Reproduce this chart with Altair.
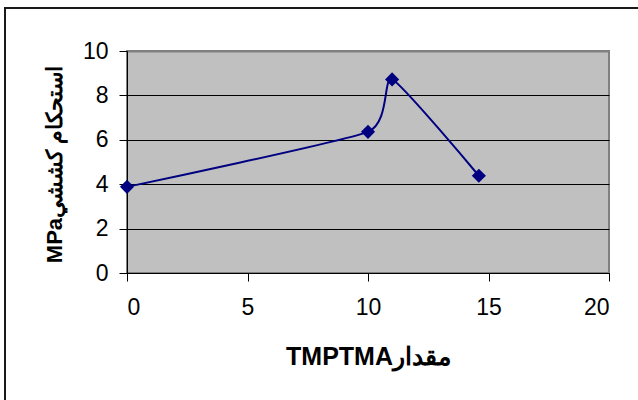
import altair as alt
import pandas as pd

# Data
tmptma = [0, 10, 11, 14.6]
strength = [3.88, 6.36, 8.72, 4.38]
x_ticks = [0, 5, 10, 15, 20]
y_ticks = [0, 2, 4, 6, 8, 10]

x_title = "TMPTMAمقدار"
y_title = "MPaاستحکام کششي"

df = pd.DataFrame({"x": tmptma, "y": strength})

FONT = "Liberation Sans"

x_enc = alt.X(
    "x:Q",
    scale=alt.Scale(domain=[0, 20], nice=False, zero=False),
    axis=alt.Axis(
        values=x_ticks, title=x_title, grid=False, format="d",
        titleY=91, titleBaseline="alphabetic", titleFontSize=25,
    ),
)
y_enc = alt.Y(
    "y:Q",
    scale=alt.Scale(domain=[0, 10], nice=False),
    axis=alt.Axis(
        values=y_ticks, title=y_title, grid=True, format="d",
        gridColor={"condition": {"test": "datum.value === 10", "value": "#808080"}, "value": "#000000"},
        gridWidth={"condition": {"test": "datum.value === 10", "value": 2}, "value": 1},
        titleX=-66, titleY=113, titleBaseline="alphabetic", titleAngle=270,
        titleFontSize=22,
    ),
)

base = alt.Chart(df)

line = base.mark_line(
    color="#000080", strokeWidth=2, interpolate="cardinal", tension=0.5
).encode(x=x_enc, y=y_enc)

points = base.mark_point(
    shape="diamond", filled=True, color="#000080", size=200, opacity=1
).encode(x="x:Q", y="y:Q")

frame = alt.Chart(alt.Data(values=[{}]))
frame_top = frame.mark_rule(color="#1a1a1a", strokeWidth=2).encode(
    x=alt.value(-122), x2=alt.value(520), y=alt.value(-43)
)
frame_left = frame.mark_rule(color="#1a1a1a", strokeWidth=2).encode(
    x=alt.value(-122), y=alt.value(-44), y2=alt.value(360)
)

chart = alt.layer(line, points, frame_top, frame_left).properties(
    width=482,
    height=222,
    autosize=alt.AutoSizeParams(type="none"),
    padding={"left": 127, "top": 51, "right": 29, "bottom": 127},
    background="#ffffff",
).configure_view(
    fill="#c0c0c0", stroke="#808080", strokeWidth=2
).configure_axis(
    labelFont=FONT, labelFontSize=23, labelColor="#000000",
    titleFont=FONT, titleFontSize=24, titleFontWeight="bold", titleColor="#000000",
    domainColor="#000000", domainWidth=1,
    tickColor="#000000", tickSize=8, tickWidth=1,
    labelPadding=11,
).configure_axisX(
    labelPadding=15,
)

chart.save("out.html", embed_options={"renderer": "svg", "actions": False})
